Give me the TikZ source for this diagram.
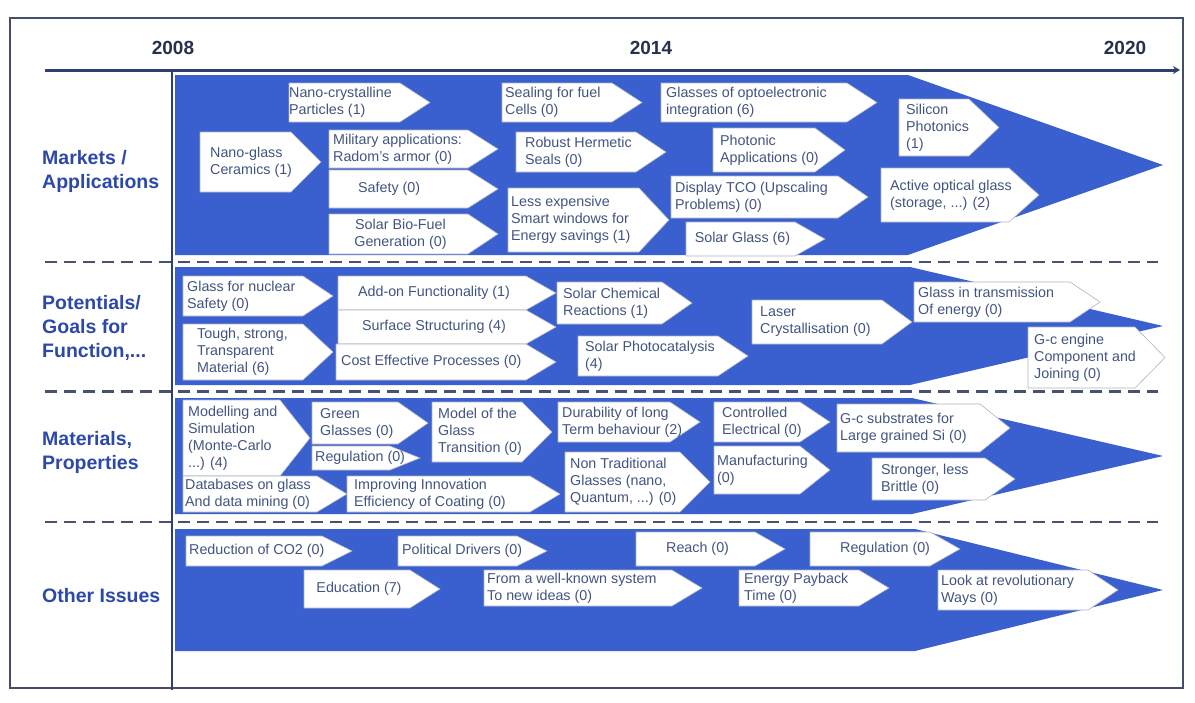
\documentclass[tikz,border=0pt]{standalone}
\usepackage{fontspec}
\setmainfont{Liberation Sans}
\usetikzlibrary{arrows.meta}

\definecolor{bandblue}{RGB}{57,96,206}
\definecolor{labelblue}{RGB}{44,72,168}
\definecolor{yearnavy}{RGB}{40,48,80}
\definecolor{axisnavy}{RGB}{48,62,112}
\definecolor{dashgray}{RGB}{72,82,112}
\definecolor{boxtextc}{RGB}{66,84,130}
\definecolor{boxedge}{RGB}{175,180,195}
\definecolor{framec}{RGB}{70,78,105}

\tikzset{
  chevron/.style={fill=white,draw=boxedge,line width=0.6pt},
  boxlabel/.style={inner sep=0pt,align=left,text=boxtextc,
    font=\fontsize{14.3}{17}\selectfont},
  rowlabel/.style={inner sep=0pt,align=left,anchor=west,text=labelblue,
    font=\fontsize{19.5}{24}\selectfont\bfseries},
  yearlabel/.style={inner sep=0pt,text=yearnavy,
    font=\fontsize{19}{22}\selectfont\bfseries},
  band/.style={fill=bandblue},
  rowrule/.style={draw=dashgray,line width=2.6pt,dash pattern=on 12pt off 7pt}
}

% pointed tag: [text inset]{name}{left}{top}{tip x}{bottom}{text}
\newcommand\tipl{30}
\newcommand\chevL[7][4]{%
  \filldraw[chevron] (#3,#4) -- ({#5-\tipl},#4) -- (#5,{(#4+#6)/2})
    -- ({#5-\tipl},#6) -- (#3,#6) -- cycle;
  \node[boxlabel,anchor=west] (#2) at ({#3+#1},{(#4+#6)/2}) {#7};}
\newcommand\chevC[6]{%
  \filldraw[chevron] (#2,#3) -- ({#4-\tipl},#3) -- (#4,{(#3+#5)/2})
    -- ({#4-\tipl},#5) -- (#2,#5) -- cycle;
  \node[boxlabel,align=center] (#1) at ({(#2+#4-\tipl)/2+2},{(#3+#5)/2}) {#6};}

\begin{document}
\begin{tikzpicture}[x=1pt,y=-1pt]
\useasboundingbox (0,0) rectangle (1195,702);
\fill[white] (0,0) rectangle (1195,702);

% blue road-map bands
\fill[band] (175,75) -- (908,75) -- (1163,165) -- (908,255) -- (175,255) -- cycle;
\fill[band] (175,267) -- (910,267) -- (1163,326) -- (910,385) -- (175,385) -- cycle;
\fill[band] (175,398) -- (912,398) -- (1163,456) -- (912,514) -- (175,514) -- cycle;
\fill[band] (175,529) -- (915,529) -- (1163,590) -- (915,651) -- (175,651) -- cycle;

% frame, time axis and column rule
\draw[framec,line width=1.4pt] (10,18) rectangle (1183,688);
\coordinate (axisL) at (45,70);
\coordinate (axisR) at (1180,70);
\draw[axisnavy,line width=3pt,-{Stealth[length=7pt,width=8pt]}] (axisL) -- (axisR);
\draw[axisnavy,line width=2pt] (172,71) -- (172,690);

% row separators
\draw[rowrule] (45,262) -- (1158,262);
\draw[rowrule] (45,391.5) -- (1158,391.5);
\draw[rowrule] (45,522) -- (1158,522);

% years
\node[yearlabel] (y2008) at (173,48) {2008};
\node[yearlabel] (y2014) at (651,48) {2014};
\node[yearlabel] (y2020) at (1125,48) {2020};

% row headings
\node[rowlabel] (markets) at (42,171) {Markets /\\Applications};
\node[rowlabel] (potentials) at (42,328) {Potentials/\\Goals for\\Function,...};
\node[rowlabel] (materials) at (42,452) {Materials,\\Properties};
\node[rowlabel] (other) at (42,596) {Other Issues};

% Markets / Applications
\chevL[0]{nanocryst}{289}{83}{430}{122}{Nano-crystalline\\Particles (1)}
\chevL[10]{nanoglass}{200}{132}{321}{192}{Nano-glass\\Ceramics (1)}
\chevL[4]{military}{329}{130}{498}{168}{Military applications:\\Radom's armor (0)}
\chevL[29]{safety}{329}{170}{498}{208}{Safety (0)}
\chevC{biofuel}{329}{214}{498}{254}{Solar Bio-Fuel\\Generation (0)}
\chevL[3]{sealing}{502}{83}{642}{122}{Sealing for fuel\\Cells (0)}
\chevL[9]{hermetic}{516}{132}{666}{172}{Robust Hermetic\\Seals (0)}
\chevL[3]{smartwin}{508}{188}{669}{252}{Less expensive\\Smart windows for\\Energy savings (1)}
\chevL[5]{optoel}{661}{83}{877}{122}{Glasses of optoelectronic\\integration (6)}
\chevL[7]{photonic}{713}{128}{845}{172}{Photonic\\Applications (0)}
\chevL[4]{display}{671}{176}{868}{218}{Display TCO (Upscaling\\Problems) (0)}
\chevC{solarglass}{686}{222}{825}{256}{Solar Glass (6)}
\chevL[7]{silicon}{899}{99}{999}{156}{Silicon\\Photonics\\(1)}
\chevL[9]{activeopt}{881}{168}{1039}{222}{Active optical glass\\(storage, ...) (2)}

% Potentials / Goals for Function
\chevL[4]{nuclear}{183}{276}{333}{316}{Glass for nuclear\\Safety (0)}
\chevL[14]{tough}{183}{324}{333}{380}{Tough, strong,\\Transparent\\Material (6)}
\chevC{addon}{338}{276}{556}{310}{Add-on Functionality (1)}
\chevC{surface}{338}{310}{556}{344}{Surface Structuring (4)}
\chevL[5]{costeff}{336}{344}{556}{380}{Cost Effective Processes (0)}
\chevL[6]{solarchem}{557}{282}{692}{324}{Solar Chemical\\Reactions (1)}
\chevL[7]{photocat}{578}{336}{748}{376}{Solar Photocatalysis\\(4)}
\chevL[8]{laser}{752}{300}{912}{344}{Laser\\Crystallisation (0)}
\chevL[4]{transmission}{914}{282}{1100}{322}{Glass in transmission\\Of energy (0)}
\chevL[6]{gcengine}{1028}{327}{1165}{388}{G-c engine\\Component and\\Joining (0)}

% Materials, Properties
\chevL[5]{modelling}{183}{400}{310}{476}{Modelling and\\Simulation\\(Monte-Carlo\\...) (4)}
\chevL[8]{green}{312}{402}{428}{444}{Green\\Glasses (0)}
\chevL[3]{regulationA}{312}{446}{420}{470}{Regulation (0)}
\chevL[6]{transition}{432}{402}{552}{462}{Model of the\\Glass\\Transition (0)}
\chevL[4]{durability}{558}{402}{700}{442}{Durability of long\\Term behaviour (2)}
\chevL[5]{nontrad}{565}{452}{710}{512}{Non Traditional\\Glasses (nano,\\Quantum, ...) (0)}
\chevL[8]{electrical}{714}{402}{830}{442}{Controlled\\Electrical (0)}
\chevL[3]{manufact}{714}{446}{830}{494}{Manufacturing\\(0)}
\chevL[3]{substrates}{837}{404}{1010}{452}{G-c substrates for\\Large grained Si (0)}
\chevL[9]{stronger}{872}{458}{1015}{500}{Stronger, less\\Brittle (0)}
\chevL[2]{databases}{183}{476}{347}{512}{Databases on glass\\And data mining (0)}
\chevL[7]{innovation}{347}{476}{560}{512}{Improving Innovation\\Efficiency of Coating (0)}

% Other Issues
\chevL[3]{co2}{186}{536}{352}{566}{Reduction of CO2 (0)}
\chevL[4]{political}{398}{536}{547}{566}{Political Drivers (0)}
\chevC{education}{304}{570}{440}{608}{Education (7)}
\chevL[3]{wellknown}{484}{570}{702}{606}{From a well-known system\\To new ideas (0)}
\chevL[30]{reach}{636}{532}{785}{566}{Reach (0)}
\chevL[30]{regulationB}{810}{532}{960}{566}{Regulation (0)}
\chevL[5]{payback}{739}{570}{889}{606}{Energy Payback\\Time (0)}
\chevL[3]{revolution}{938}{570}{1118}{610}{Look at revolutionary\\Ways (0)}
\end{tikzpicture}
\end{document}
